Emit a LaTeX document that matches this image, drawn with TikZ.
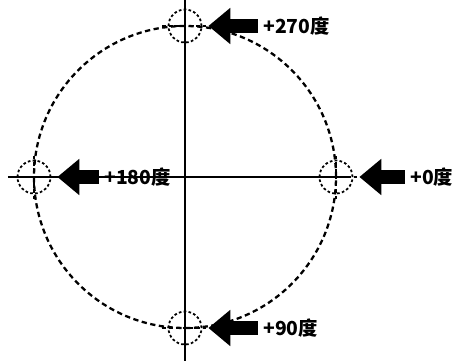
\documentclass[tikz,border=0pt]{standalone}
\usepackage{fontspec}
\newfontfamily\cjk{Noto Sans CJK SC}
\usetikzlibrary{arrows.meta}

\tikzset{
    marque/.style={circle, draw, minimum size=0.66cm, inner sep=0pt,
        line width=1pt, dash pattern=on 1.5pt off 1.3pt},
    croix/.style={line width=1pt, dash pattern=on 2.2pt off 1.6pt},
    fleche/.style={line width=0.28cm, shorten >=0.12cm,
        -{Triangle[width=0.7cm,length=0.44cm]}},
    angle/.style={font=\cjk\bfseries\fontsize{11}{13}\selectfont,
        inner sep=0pt, anchor=west}
}

\begin{document}
\begin{tikzpicture}

\useasboundingbox (-3.7,-3.68) rectangle (5.44,3.54);

% Axes
\draw[line width=1.2pt] (0,3.54) -- (0,-3.68);
\draw[line width=1.2pt] (-3.54,0) -- (3.3,0);

% Cercle
\draw[line width=1.3pt, dash pattern=on 3pt off 2pt] (0,0) circle (3.02);

% Repères
\node[marque] (m0) at (3.02,0) {};
\node[marque] (m90) at (0,-3.02) {};
\node[marque] (m180) at (-3.02,0) {};
\node[marque] (m270) at (0,3.02) {};

\foreach \m in {m0,m90,m180,m270}
{
    \draw[croix] ([xshift=-0.45cm]\m.center) -- ([xshift=0.45cm]\m.center);
    \draw[croix] ([yshift=-0.45cm]\m.center) -- ([yshift=0.45cm]\m.center);
}

% Angles
\node[angle] (a0) at (4.5,0) {+0度};
\node[angle] (a90) at (1.56,-3.02) {+90度};
\node[angle] (a180) at (-1.62,0) {+180度};
\node[angle] (a270) at (1.56,3.02) {+270度};

\foreach \a/\m in {a0/m0,a90/m90,a180/m180,a270/m270}
{
    \draw[fleche] ([xshift=-0.1cm]\a.west) -- (\m.east);
}

\end{tikzpicture}
\end{document}
